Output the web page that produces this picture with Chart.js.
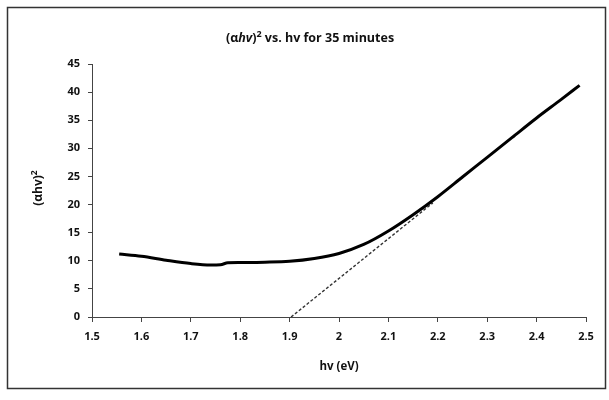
<!DOCTYPE html>
<html>
<head>
<meta charset="utf-8">
<script src="https://cdn.jsdelivr.net/npm/chart.js@4.4.0/dist/chart.umd.min.js"></script>
<style>
  html, body { margin: 0; padding: 0; background: #fff; }
  #wrap { width: 609px; height: 400px; position: relative; }
</style>
</head>
<body>
<div id="wrap"><canvas id="chart" width="609" height="400"></canvas></div>
<script>
// data
const hv = [1.555, 1.60, 1.65, 1.70, 1.74, 1.76, 1.775, 1.80, 1.85, 1.90, 1.95, 2.00, 2.05, 2.10, 2.15, 2.20, 2.25, 2.30, 2.35, 2.40, 2.45, 2.487];
const ahv2 = [11.2, 10.8, 10.1, 9.5, 9.25, 9.3, 9.65, 9.7, 9.75, 9.9, 10.4, 11.3, 12.9, 15.3, 18.2, 21.4, 24.9, 28.4, 31.9, 35.4, 38.7, 41.2];
const tangentX = [1.903, 2.19];
const tangentY = [0, 20.3];

const xTicks = [1.5, 1.6, 1.7, 1.8, 1.9, 2.0, 2.1, 2.2, 2.3, 2.4, 2.5];
const yTicks = [0, 5, 10, 15, 20, 25, 30, 35, 40, 45];

const FONT = "'Open Sans', 'DejaVu Sans', sans-serif";

// titles with mixed italic / superscript
const titles = {
  id: 'titles',
  afterDraw(chart) {
    const c = chart.ctx;
    c.save();
    c.fillStyle = '#111';
    c.textBaseline = 'alphabetic';

    // pieces: [text, font, dy]
    function drawPieces(pieces, cx, cy) {
      let w = 0;
      pieces.forEach(p => { c.font = p[1]; w += c.measureText(p[0]).width; });
      let x = cx - w / 2;
      c.textAlign = 'left';
      pieces.forEach(p => {
        c.font = p[1];
        c.fillText(p[0], x, cy + (p[2] || 0));
        x += c.measureText(p[0]).width;
      });
    }

    const b = 'bold 12.5px ' + FONT;
    const bi = 'italic bold 12.5px ' + FONT;
    const sup = 'bold 9px ' + FONT;
    drawPieces([['(α', b], ['hv', bi], [')', b], ['2', sup, -5], [' vs. hv for 35 minutes', b]], 310, 42);

    // x axis title
    drawPieces([['hv (eV)', 'bold 11.5px ' + FONT]], chart.chartArea.left + (chart.chartArea.right - chart.chartArea.left) / 2, 370);

    // y axis title, rotated
    c.translate(42, 188);
    c.rotate(-Math.PI / 2);
    const yb = 'bold 12px ' + FONT;
    drawPieces([['(αhv)', yb], ['2', 'bold 8.5px ' + FONT, -5]], 0, 0);
    c.restore();

    // outer frame
    c.save();
    c.strokeStyle = '#333';
    c.lineWidth = 1.5;
    c.strokeRect(7.5, 7.5, 598, 381);
    c.restore();
  }
};

new Chart(document.getElementById('chart'), {
  type: 'scatter',
  data: {
    datasets: [{
      label: 'curve',
      data: hv.map((x, i) => ({ x: x, y: ahv2[i] })),
      showLine: true,
      borderColor: '#000',
      borderWidth: 3,
      pointRadius: 0,
      tension: 0.4,
      cubicInterpolationMode: 'monotone'
    }, {
      label: 'tangent',
      data: tangentX.map((x, i) => ({ x: x, y: tangentY[i] })),
      showLine: true,
      borderColor: '#333',
      borderWidth: 1.4,
      borderDash: [3, 2],
      pointRadius: 0
    }]
  },
  options: {
    responsive: false,
    animation: false,
    devicePixelRatio: 1,
    layout: { padding: { left: 10, right: 23, top: 64, bottom: 10 } },
    plugins: { legend: { display: false }, tooltip: { enabled: false }, title: { display: false } },
    scales: {
      x: {
        type: 'linear',
        min: 1.5, max: 2.5,
        afterBuildTicks: s => { s.ticks = xTicks.map(v => ({ value: v })); },
        afterFit: s => { s.height = 73; },
        border: { color: '#444', width: 1 },
        grid: { drawOnChartArea: false, color: '#444', tickLength: 5 },
        ticks: {
          color: '#111',
          padding: 8,
          font: { family: FONT, size: 11, weight: 'bold' },
          callback: v => String(Number(v.toFixed(1)))
        }
      },
      y: {
        min: 0, max: 45,
        afterBuildTicks: s => { s.ticks = yTicks.map(v => ({ value: v })); },
        afterFit: s => { s.width = 82; },
        border: { color: '#444', width: 1 },
        grid: { drawOnChartArea: false, color: '#444', tickLength: 4 },
        ticks: {
          color: '#111',
          padding: 8,
          font: { family: FONT, size: 11, weight: 'bold' }
        }
      }
    }
  },
  plugins: [titles]
});
</script>
</body>
</html>
